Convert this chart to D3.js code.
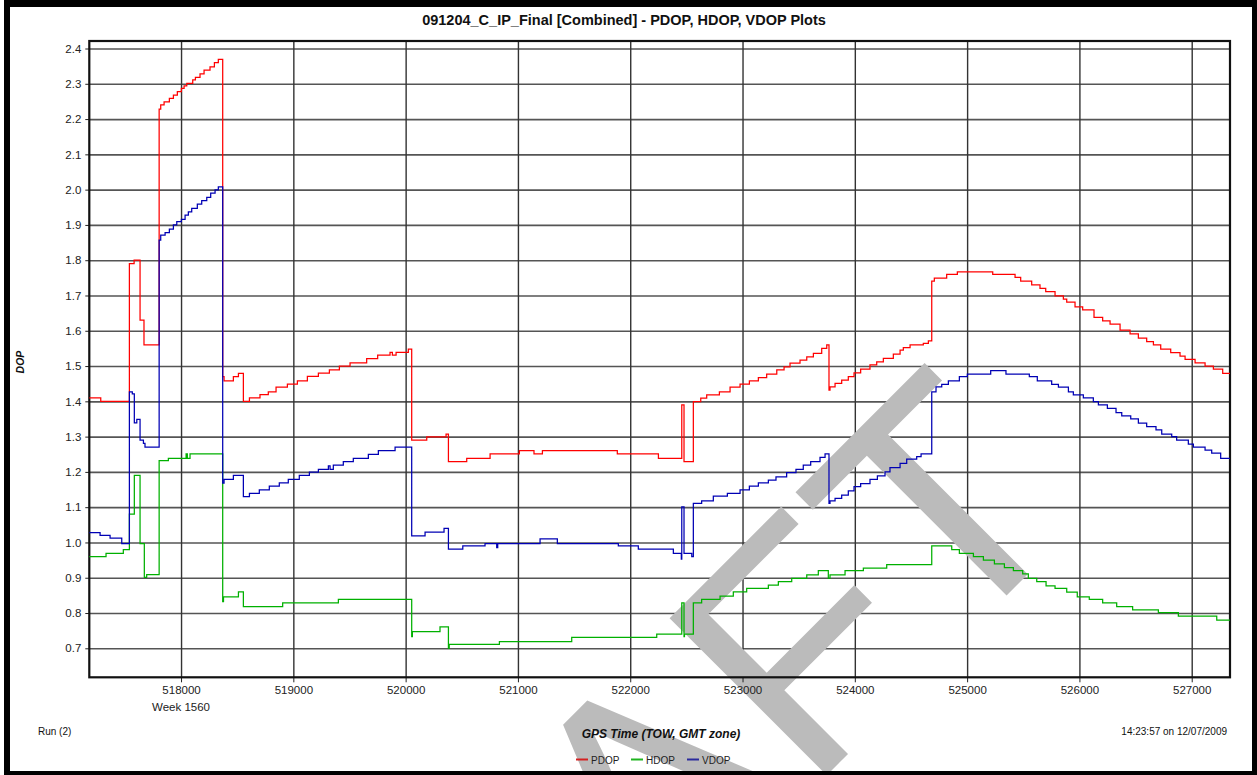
<!DOCTYPE html>
<html>
<head>
<meta charset="utf-8">
<script src="https://cdn.jsdelivr.net/npm/d3@7"></script>
<style>
  body { margin: 0; background: #fff; }
  svg { display: block; }
  text { font-family: "Liberation Sans", Arial, sans-serif; }
</style>
</head>
<body>
<svg id="chart" width="1257" height="775"></svg>
<script>
// GPS time of week (s) and DOP value at each step change
const pdop = [
  [517183,1.41],[517285,1.40],[517540,1.79],[517582,1.80],[517635,1.63],[517670,1.56],
  [517805,2.228],[517819,2.24],[517849,2.249],[517896,2.259],[517932,2.268],[517967,2.278],
  [518003,2.287],[518027,2.294],[518051,2.301],[518104,2.311],[518128,2.318],[518169,2.328],
  [518205,2.339],[518258,2.348],[518297,2.36],[518332,2.369],
  [518371,1.47],[518383,1.458],[518466,1.47],[518511,1.479],[518555,1.40],[518609,1.41],
  [518703,1.419],[518777,1.427],[518846,1.44],[518947,1.449],[519036,1.458],[519125,1.471],
  [519223,1.48],[519321,1.489],[519410,1.50],[519505,1.509],[519653,1.521],[519751,1.531],
  [519861,1.539],[519882,1.531],[519915,1.539],[520024,1.548],[520054,1.29],[520188,1.299],
  [520360,1.307],[520381,1.229],[520544,1.238],[520752,1.251],[521013,1.26],[521143,1.251],
  [521218,1.26],[521885,1.251],[522251,1.238],[522459,1.39],[522479,1.229],
  [522562,1.399],[522628,1.409],[522681,1.418],[522794,1.427],[522889,1.44],[522978,1.449],
  [523061,1.458],[523141,1.467],[523215,1.477],[523305,1.489],[523370,1.498],[523423,1.508],
  [523512,1.517],[523572,1.526],[523631,1.536],[523705,1.55],[523750,1.56],
  [523770,1.432],[523779,1.441],[523824,1.451],[523883,1.46],[523942,1.47],[523993,1.481],
  [524052,1.491],[524135,1.503],[524195,1.512],[524254,1.522],[524343,1.534],[524403,1.545],
  [524432,1.552],[524492,1.56],[524610,1.564],[524655,1.571],
  [524685,1.741],[524708,1.749],[524818,1.76],[524913,1.767],[525228,1.76],[525427,1.751],
  [525477,1.741],[525575,1.73],[525649,1.72],[525700,1.711],[525783,1.699],[525857,1.69],
  [525887,1.681],[525961,1.668],[526029,1.659],[526130,1.638],[526207,1.628],[526273,1.619],
  [526362,1.602],[526451,1.591],[526525,1.579],[526599,1.569],[526659,1.56],[526724,1.548],
  [526813,1.538],[526896,1.528],[526941,1.519],[527030,1.509],[527119,1.5],[527193,1.491],
  [527276,1.479]
];

const hdop = [
  [517183,0.960],[517332,0.969],[517486,0.980],[517540,1.080],[517584,1.190],[517635,0.997],
  [517673,0.901],[517694,0.909],[517805,1.232],[517887,1.238],[518045,1.251],[518056,1.238],
  [518080,1.251],[518371,0.832],[518378,0.846],[518511,0.860],[518555,0.818],[518905,0.829],
  [519401,0.839],[520054,0.733],[520060,0.747],[520306,0.761],[520381,0.700],[520388,0.711],
  [520835,0.719],[521479,0.731],[522236,0.740],[522459,0.829],[522479,0.733],[522483,0.740],
  [522562,0.829],[522636,0.839],[522800,0.848],[522918,0.860],[523037,0.870],[523230,0.879],
  [523319,0.889],[523438,0.898],[523572,0.908],[523675,0.920],[523764,0.898],[523779,0.908],
  [523913,0.920],[524076,0.927],[524284,0.937],[524685,0.990],[524863,0.980],[524931,0.969],
  [525056,0.960],[525145,0.950],[525243,0.939],[525332,0.929],[525412,0.920],[525495,0.911],
  [525545,0.898],[525620,0.889],[525703,0.877],[525783,0.870],[525887,0.859],[525981,0.846],
  [526088,0.839],[526207,0.829],[526332,0.818],[526474,0.809],[526703,0.801],[526881,0.791],
  [527223,0.780]
];

const vdop = [
  [517183,1.028],[517279,1.020],[517368,1.012],[517472,0.997],[517540,1.427],[517566,1.421],
  [517584,1.339],[517606,1.349],[517635,1.290],[517665,1.281],[517679,1.270],
  [517805,1.857],[517819,1.871],[517858,1.878],[517896,1.888],[517932,1.900],[517962,1.909],
  [518003,1.916],[518036,1.928],[518065,1.937],[518095,1.947],[518145,1.959],[518184,1.969],
  [518229,1.978],[518264,1.990],[518303,1.999],[518332,2.008],
  [518371,1.168],[518383,1.179],[518466,1.190],[518555,1.130],[518609,1.139],[518697,1.149],
  [518786,1.160],[518875,1.169],[518955,1.179],[519053,1.190],[519143,1.199],[519223,1.207],
  [519312,1.217],[519327,1.207],[519356,1.219],[519445,1.229],[519534,1.238],[519668,1.250],
  [519757,1.260],[519906,1.270],[520054,1.019],[520173,1.029],[520342,1.040],[520381,0.981],
  [520509,0.990],[520707,0.997],[520811,0.985],[520820,0.997],[521197,1.010],[521351,0.997],
  [521894,0.990],[522072,0.981],[522384,0.969],[522455,0.953],[522459,1.101],[522479,0.969],
  [522548,0.960],[522562,1.111],[522636,1.118],[522740,1.131],[522865,1.139],[522978,1.149],
  [523061,1.160],[523141,1.169],[523230,1.177],[523298,1.186],[523393,1.198],[523476,1.207],
  [523541,1.219],[523607,1.229],[523690,1.241],[523735,1.251],[523770,1.111],[523779,1.118],
  [523824,1.125],[523883,1.134],[523942,1.146],[523993,1.158],[524052,1.167],[524135,1.179],
  [524201,1.189],[524269,1.200],[524313,1.212],[524403,1.224],[524462,1.236],[524551,1.243],
  [524590,1.251],[524685,1.427],[524723,1.441],[524774,1.448],[524833,1.458],[524931,1.470],
  [525002,1.477],[525210,1.487],[525346,1.477],[525554,1.470],[525625,1.458],[525753,1.448],
  [525813,1.440],[525902,1.427],[525946,1.418],[526035,1.410],[526124,1.399],[526169,1.390],
  [526249,1.380],[526326,1.368],[526377,1.359],[526457,1.350],[526525,1.338],[526599,1.328],
  [526682,1.319],[526733,1.307],[526822,1.300],[526866,1.290],[526970,1.279],[527015,1.270],
  [527119,1.262],[527178,1.253],[527258,1.238]
];

const xTicks = [518000, 519000, 520000, 521000, 522000, 523000, 524000, 525000, 526000, 527000];
const yTicks = [0.7, 0.8, 0.9, 1.0, 1.1, 1.2, 1.3, 1.4, 1.5, 1.6, 1.7, 1.8, 1.9, 2.0, 2.1, 2.2, 2.3, 2.4];
const timeDomain = [517183, 527341];
const dopDomain = [0.6178, 2.4213];

const seriesNames = ["PDOP", "HDOP", "VDOP"];
const seriesColors = ["#ff0000", "#00b000", "#0000b4"];
const legendColors = ["#d42020", "#20b420", "#2a2a9c"];

const titleText = "091204_C_IP_Final [Combined] - PDOP, HDOP, VDOP Plots";
const xTitle = "GPS Time (TOW, GMT zone)";
const yTitle = "DOP";
const weekLabel = "Week 1560";
const runLabel = "Run (2)";
const stampLabel = "14:23:57 on 12/07/2009";
const watermark = "DRAFT";

const svg = d3.select("#chart");
const plot = { left: 89.3, right: 1230, top: 41, bottom: 677.3 };

const x = d3.scaleLinear().domain(timeDomain).range([plot.left, plot.right]);
const y = d3.scaleLinear().domain(dopDomain).range([plot.bottom, plot.top]);

svg.append("rect").attr("width", 1257).attr("height", 775).attr("fill", "#fff");

// grid lines
const grid = svg.append("g");
grid.append("g")
  .attr("transform", `translate(${plot.left},0)`)
  .call(d3.axisLeft(y).tickValues(yTicks).tickSize(-(plot.right - plot.left)).tickFormat(""))
  .call(g => g.select(".domain").remove())
  .call(g => g.selectAll("line").attr("stroke", "#555").attr("stroke-width", 1.6));
grid.append("g")
  .attr("transform", `translate(0,${plot.bottom})`)
  .call(d3.axisBottom(x).tickValues(xTicks).tickSize(-(plot.bottom - plot.top)).tickFormat(""))
  .call(g => g.select(".domain").remove())
  .call(g => g.selectAll("line").attr("stroke", "#333").attr("stroke-width", 1.4));

// watermark, clipped by the page edge
svg.append("text")
  .attr("transform", "translate(1087,515) rotate(-45)")
  .attr("text-anchor", "end")
  .attr("font-size", 323)
  .attr("fill", "#bbbbbb")
  .text(watermark);

// axes with ticks and labels
const yAxis = svg.append("g")
  .attr("transform", `translate(${plot.left},0)`)
  .call(d3.axisLeft(y).tickValues(yTicks).tickSize(4).tickPadding(4).tickFormat(d3.format(".1f")));
yAxis.select(".domain").remove();
yAxis.selectAll("line").attr("stroke", "#222");
yAxis.selectAll("text").attr("font-size", 11.5).attr("fill", "#222").style("font-family", "'Liberation Sans', Arial, sans-serif");

const xAxis = svg.append("g")
  .attr("transform", `translate(0,${plot.bottom})`)
  .call(d3.axisBottom(x).tickValues(xTicks).tickSize(5).tickPadding(4).tickFormat(d3.format("d")));
xAxis.select(".domain").remove();
xAxis.selectAll("line").attr("stroke", "#222");
xAxis.selectAll("text").attr("font-size", 11.5).attr("fill", "#222").style("font-family", "'Liberation Sans', Arial, sans-serif");

// plot frame
svg.append("rect")
  .attr("x", plot.left).attr("y", plot.top)
  .attr("width", plot.right - plot.left).attr("height", plot.bottom - plot.top)
  .attr("fill", "none").attr("stroke", "#111").attr("stroke-width", 2.2);

// series
const line = d3.line()
  .x(d => x(d[0]))
  .y(d => y(d[1]))
  .curve(d3.curveStepAfter);

[pdop, hdop, vdop].forEach((s, i) => {
  const pts = s.concat([[timeDomain[1], s[s.length - 1][1]]]);
  svg.append("path")
    .datum(pts)
    .attr("fill", "none")
    .attr("stroke", seriesColors[i])
    .attr("stroke-width", 1.25)
    .attr("d", line);
});

// titles and notes
svg.append("text").attr("x", 624).attr("y", 25)
  .attr("text-anchor", "middle").attr("font-size", 14.5).attr("font-weight", "bold")
  .attr("fill", "#111").text(titleText);

svg.append("text").attr("x", x(518000)).attr("y", 711)
  .attr("text-anchor", "middle").attr("font-size", 11.5).attr("fill", "#222").text(weekLabel);

svg.append("text").attr("x", 38).attr("y", 735)
  .attr("font-size", 10).attr("fill", "#111").text(runLabel);

svg.append("text").attr("x", 1227).attr("y", 735)
  .attr("text-anchor", "end").attr("font-size", 10).attr("fill", "#111").text(stampLabel);

svg.append("text").attr("x", 661).attr("y", 738)
  .attr("text-anchor", "middle").attr("font-size", 12).attr("font-weight", "bold")
  .attr("font-style", "italic").attr("fill", "#111").text(xTitle);

svg.append("text").attr("transform", "translate(24,362) rotate(-90)")
  .attr("text-anchor", "middle").attr("font-size", 10.5).attr("font-weight", "bold")
  .attr("font-style", "italic").attr("fill", "#111").text(yTitle);

// legend
const legendX = [576, 631, 687];
const legend = svg.append("g");
seriesNames.forEach((name, i) => {
  legend.append("line")
    .attr("x1", legendX[i]).attr("x2", legendX[i] + 12)
    .attr("y1", 759.5).attr("y2", 759.5)
    .attr("stroke", legendColors[i]).attr("stroke-width", 2);
  legend.append("text")
    .attr("x", legendX[i] + 15).attr("y", 763.5)
    .attr("font-size", 10).attr("fill", "#222").text(name);
});

// outer border
const border = svg.append("g").attr("fill", "#000");
border.append("rect").attr("x", 4).attr("y", 0).attr("width", 1253).attr("height", 7);
border.append("rect").attr("x", 4).attr("y", 0).attr("width", 6).attr("height", 775);
border.append("rect").attr("x", 1252).attr("y", 0).attr("width", 5).attr("height", 775);
border.append("rect").attr("x", 4).attr("y", 771).attr("width", 1253).attr("height", 4);
</script>
</body>
</html>
